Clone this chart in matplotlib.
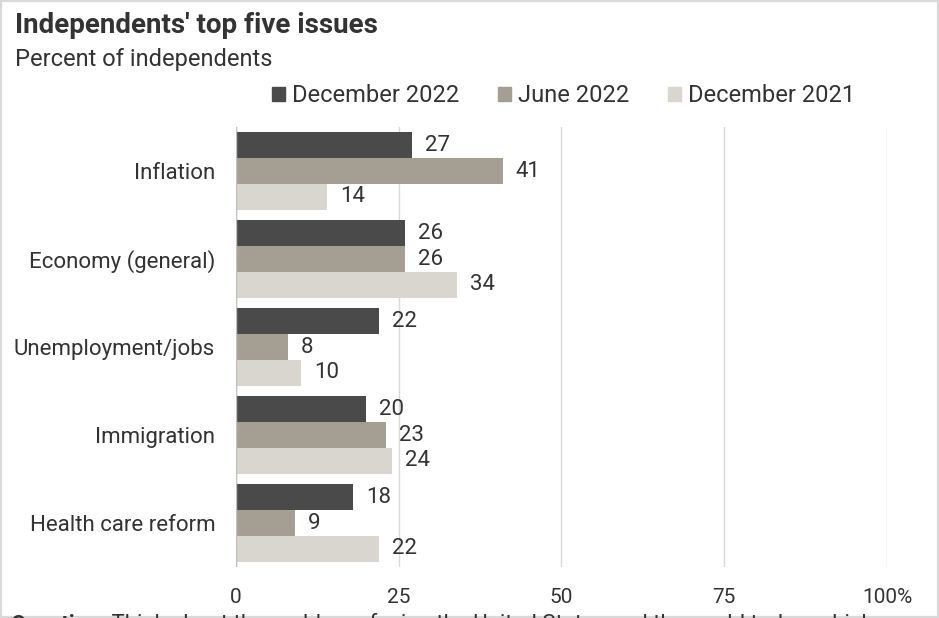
import matplotlib.pyplot as plt
from matplotlib.patches import Patch, Rectangle
from matplotlib.transforms import offset_copy
import numpy as np

plt.rcParams['font.family'] = ['Roboto', 'DejaVu Sans']

categories = ['Inflation', 'Economy (general)', 'Unemployment/jobs', 'Immigration', 'Health care reform']
dec_2022 = [27, 26, 22, 20, 18]
jun_2022 = [41, 26, 8, 23, 9]
dec_2021 = [14, 34, 10, 24, 22]
series_names = ['December 2022', 'June 2022', 'December 2021']
colors = ['#4a4a4a', '#a59e93', '#d9d5cf']
ticks = [0, 25, 50, 75, 100]
tick_labels = ['0', '25', '50', '75', '100%']

txt = '#333333'

fig = plt.figure(figsize=(9.39, 6.18), dpi=100)
ax = fig.add_axes([0.2513, 0.0825, 0.6933, 0.712])

y = np.arange(len(categories))
h = 0.295
for i, (vals, c) in enumerate(zip([dec_2022, jun_2022, dec_2021], colors)):
    pos = y + (i - 1) * h
    ax.barh(pos, vals, height=h, color=c, zorder=3)
    for p, v in zip(pos, vals):
        ax.text(v + 2, p, str(v), va='center', ha='left', fontsize=16, color=txt)

ax.set_ylim(len(categories) - 0.5, -0.5)
ax.set_xlim(0, 100)
ax.set_xticks(ticks)
ax.set_xticklabels(tick_labels, fontsize=15, color=txt)
ax.set_yticks(y)
ax.set_yticklabels(categories, fontsize=16, color=txt)
ax.tick_params(axis='y', length=0, pad=15)
ax.tick_params(axis='x', length=0, pad=15)
for s in ax.spines.values():
    s.set_visible(False)
ax.grid(axis='x', color='#d9d9d9', linewidth=1, zorder=0)
ax.axvline(0, color='#bfbfbf', linewidth=1, zorder=4)

fig.text(0.016, 0.958, "Independents' top five issues", fontsize=20, fontweight='bold', color=txt, va='center')
fig.text(0.016, 0.903, 'Percent of independents', fontsize=17, color=txt, va='center')

handles = [Patch(color=c) for c in colors]
fig.legend(handles, series_names, loc='center', bbox_to_anchor=(0.6, 0.845), ncol=3,
           frameon=False, fontsize=17, handlelength=0.55, handleheight=0.55,
           handletextpad=0.3, columnspacing=1.65, labelcolor=txt)

# source note, cut off at the bottom edge like the original
q = fig.text(0.011, -0.02, 'Question:', fontsize=16, fontweight='bold', color=txt, va='baseline')
fig.canvas.draw()
w = q.get_window_extent().width
fig.text(0.011, -0.02, ' Think about the problems facing the United States and the world today, which',
         fontsize=16, color=txt, va='baseline',
         transform=offset_copy(fig.transFigure, fig=fig, x=w, y=0, units='dots'))

fig.patches.append(Rectangle((0, 0), 1, 1, transform=fig.transFigure, fill=False,
                             edgecolor='#d9d9d9', linewidth=3))

fig.savefig('out.png', dpi=100)
